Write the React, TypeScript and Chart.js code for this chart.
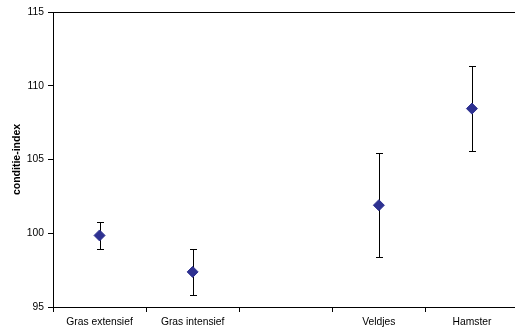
import React, { useEffect, useRef } from "react";
import { Chart, registerables } from "chart.js";

Chart.register(...registerables);

const categories = ["Gras extensief", "Gras intensief", "", "Veldjes", "Hamster"];
const means: (number | null)[] = [99.85, 97.38, null, 101.9, 108.45];
const upper: (number | null)[] = [100.75, 98.93, null, 105.47, 111.36];
const lower: (number | null)[] = [98.95, 95.8, null, 98.38, 105.58];
const yMin = 95;
const yMax = 115;
const yStep = 5;
const yTitle = "conditie-index";

const FONT = "'Liberation Sans', Arial, Helvetica, sans-serif";

const errorBarPlugin = {
  id: "errorBars",
  beforeDatasetsDraw(chart: any) {
    const meta = chart.getDatasetMeta(0);
    const yScale = chart.scales.y;
    const ctx = chart.ctx;
    ctx.save();
    ctx.strokeStyle = "#000";
    ctx.lineWidth = 1;
    meta.data.forEach((pt: any, i: number) => {
      const hi = upper[i];
      const lo = lower[i];
      if (hi == null || lo == null || means[i] == null) return;
      const x = Math.round(pt.x) + 0.5;
      const yh = Math.round(yScale.getPixelForValue(hi)) + 0.5;
      const yl = Math.round(yScale.getPixelForValue(lo)) + 0.5;
      const cap = 3.5;
      ctx.beginPath();
      ctx.moveTo(x, yh);
      ctx.lineTo(x, yl);
      ctx.moveTo(x - cap, yh);
      ctx.lineTo(x + cap, yh);
      ctx.moveTo(x - cap, yl);
      ctx.lineTo(x + cap, yl);
      ctx.stroke();
    });
    ctx.restore();
  },
};

export default function App() {
  const ref = useRef<HTMLCanvasElement | null>(null);

  useEffect(() => {
    if (!ref.current) return;
    const chart = new Chart(ref.current, {
      type: "line",
      data: {
        labels: categories,
        datasets: [
          {
            data: means,
            showLine: false,
            pointStyle: "rectRot",
            pointRadius: 5.5,
            pointHoverRadius: 5.5,
            backgroundColor: "#2E3191",
            borderColor: "#2E3191",
            pointBorderWidth: 1,
          },
        ],
      },
      options: {
        responsive: false,
        animation: false,
        devicePixelRatio: 1,
        events: [],
        layout: { padding: { top: 12, right: 4, left: 0, bottom: 0 } },
        plugins: {
          legend: { display: false },
          tooltip: { enabled: false },
        },
        scales: {
          x: {
            type: "category",
            offset: true,
            grid: {
              offset: true,
              drawOnChartArea: false,
              drawTicks: true,
              tickLength: 5,
              tickColor: "#000",
              color: "#000",
            },
            border: { color: "#000", width: 1 },
            ticks: {
              color: "#000",
              font: { family: FONT, size: 10.3 },
              padding: 4,
              maxRotation: 0,
              autoSkip: false,
            },
            afterFit(scale: any) {
              scale.height = 25;
            },
          },
          y: {
            min: yMin,
            max: yMax,
            ticks: {
              stepSize: yStep,
              color: "#000",
              font: { family: FONT, size: 10.3 },
              padding: 4,
            },
            grid: {
              drawOnChartArea: true,
              tickLength: 5,
              tickColor: "#000",
              color: (c: any) => (c.tick && c.tick.value === yMax ? "#000" : "rgba(0,0,0,0)"),
            },
            border: { color: "#000", width: 1 },
            title: {
              display: true,
              text: yTitle,
              color: "#000",
              font: { family: FONT, size: 10.5, weight: "bold" },
              padding: { top: 11, bottom: 0 },
            },
            afterFit(scale: any) {
              scale.width = 53;
            },
          },
        },
      },
      plugins: [errorBarPlugin],
    });
    return () => chart.destroy();
  }, []);

  return (
    <div
      style={{
        position: "fixed",
        left: 0,
        top: 0,
        width: 515,
        height: 332,
        overflow: "hidden",
        background: "#fff",
      }}
    >
      <canvas ref={ref} width={525} height={332} style={{ display: "block", width: 525, height: 332 }} />
    </div>
  );
}
